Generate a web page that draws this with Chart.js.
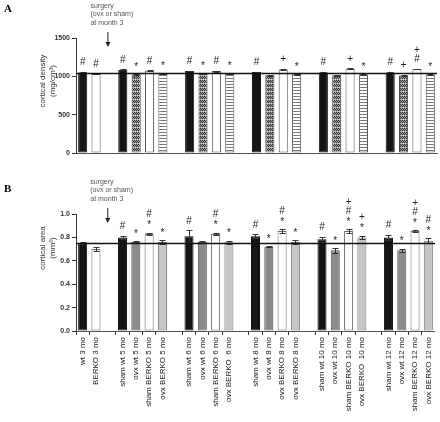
<!DOCTYPE html>
<html>
<head>
<meta charset="utf-8">
<script src="https://cdn.jsdelivr.net/npm/chart.js@4.4.1/dist/chart.umd.min.js"></script>
<style>
  html, body { margin: 0; padding: 0; background: #fff; }
  #wrap { position: relative; width: 440px; height: 422px; }
  #chartA { position: absolute; left: 0; top: 0; }
  #chartB { position: absolute; left: 0; top: 170px; }
</style>
</head>
<body>
<div id="wrap">
  <canvas id="chartA" width="440" height="170"></canvas>
  <canvas id="chartB" width="440" height="252"></canvas>
</div>
<script>
// categories (empty strings are the gaps between time points)
const labels = [
  'wt 3 mo', 'BERKO 3 mo', '',
  'sham wt 5 mo', 'ovx wt 5 mo', 'sham BERKO 5 mo', 'ovx BERKO 5 mo', '',
  'sham wt 6 mo', 'ovx wt 6 mo', 'sham BERKO 6 mo', 'ovx BERKO  6 mo', '',
  'sham wt 8 mo', 'ovx wt 8 mo', 'ovx BERKO 8 mo', 'ovx BERKO 8 mo', '',
  'sham wt 10 mo', 'ovx wt 10 mo', 'sham BERKO 10 mo', 'ovx BERKO  10 mo', '',
  'sham wt 12 mo', 'ovx wt 12 mo', 'sham BERKO 12 mo', 'ovx BERKO 12 mo'
];
const groups = [
  'wt', 'berko', null,
  'wt', 'ovxwt', 'berko', 'ovxberko', null,
  'wt', 'ovxwt', 'berko', 'ovxberko', null,
  'wt', 'ovxwt', 'berko', 'ovxberko', null,
  'wt', 'ovxwt', 'berko', 'ovxberko', null,
  'wt', 'ovxwt', 'berko', 'ovxberko'
];

// panel A: cortical density (mg/cm3)
const densityValues = [1050, 1030, null, 1087, 1025, 1073, 1030, null, 1070, 1030, 1068, 1030, null,
  1055, 1013, 1090, 1027, null, 1050, 1015, 1100, 1025, null, 1050, 1012, 1095, 1025];
const densityErrors = [5, 5, null, 5, 5, 5, 5, null, 5, 5, 5, 5, null,
  5, 5, 5, 5, null, 5, 5, 5, 5, null, 5, 5, 5, 5];
// symbols listed from bottom to top
const densityMarks = [['#'], ['#'], [], ['#'], ['*'], ['#'], ['*'], [], ['#'], ['*'], ['#'], ['*'], [],
  ['#'], [], ['+'], ['*'], [], ['#'], [], ['+'], ['*'], [], ['#'], ['+'], ['#', '+'], ['*']];
const densityRef = 1040;
const densityTicks = [0, 500, 1000, 1500];

// panel B: cortical area (mm2)
const areaValues = [0.75, 0.70, null, 0.80, 0.76, 0.83, 0.76, null, 0.81, 0.76, 0.83, 0.758, null,
  0.81, 0.72, 0.855, 0.76, null, 0.784, 0.69, 0.855, 0.80, null, 0.80, 0.69, 0.855, 0.772];
const areaErrors = [0.01, 0.02, null, 0.015, 0.01, 0.01, 0.015, null, 0.05, 0.01, 0.01, 0.015, null,
  0.015, 0.005, 0.015, 0.015, null, 0.02, 0.02, 0.015, 0.015, null, 0.02, 0.015, 0.01, 0.02];
const areaMarks = [[], [], [], ['#'], ['*'], ['*', '#'], ['*'], [], ['#'], [], ['*', '#'], ['*'], [],
  ['#'], ['*'], ['*', '#'], ['*'], [], ['#'], ['*'], ['*', '#', '+'], ['*', '+'], [],
  ['#'], ['*'], ['*', '#', '+'], ['*', '#']];
const areaRef = 0.75;
const areaTicks = [0, 0.2, 0.4, 0.6, 0.8, 1.0];

Chart.defaults.font.family = '"Liberation Sans", Arial, sans-serif';
Chart.defaults.color = '#222';

function makePattern(kind) {
  const c = document.createElement('canvas');
  const g = c.getContext('2d');
  if (kind === 'checker') {
    c.width = 4; c.height = 4;
    g.fillStyle = '#9a9a9a'; g.fillRect(0, 0, 4, 4);
    g.fillStyle = '#333';
    g.fillRect(0, 0, 1, 1); g.fillRect(2, 0, 1, 1);
    g.fillRect(1, 1, 1, 1); g.fillRect(3, 1, 1, 1);
    g.fillRect(0, 2, 1, 1); g.fillRect(2, 2, 1, 1);
    g.fillStyle = '#e0e0e0';
    g.fillRect(1, 3, 1, 1); g.fillRect(3, 3, 1, 1);
  } else {
    c.width = 3; c.height = 3;
    g.fillStyle = '#fff'; g.fillRect(0, 0, 3, 3);
    g.fillStyle = '#777'; g.fillRect(0, 0, 3, 1);
  }
  return g.createPattern(c, 'repeat');
}

const fillsA = { wt: '#151515', berko: '#ffffff', ovxwt: makePattern('checker'), ovxberko: makePattern('stripes') };
const bordersA = { wt: '#111', berko: '#555', ovxwt: '#444', ovxberko: '#555' };
const fillsB = { wt: '#151515', berko: '#ffffff', ovxwt: '#8a8a8a', ovxberko: '#c6c6c6' };
const bordersB = { wt: '#111', berko: '#6a6a6a', ovxwt: '#555', ovxberko: '#777' };

const extras = {
  id: 'extras',
  afterDatasetsDraw(chart, args, o) {
    const ctx = chart.ctx;
    const xs = chart.scales.x, ys = chart.scales.y;
    const area = chart.chartArea;
    ctx.save();
    // error bars
    ctx.strokeStyle = '#333';
    ctx.lineWidth = 1;
    o.values.forEach((v, i) => {
      if (v == null) return;
      const e = o.errors[i];
      const cx = Math.round(xs.getPixelForValue(i)) + 0.5;
      const yHi = Math.round(ys.getPixelForValue(v + e)) + 0.5;
      const yLo = Math.round(ys.getPixelForValue(v - e)) + 0.5;
      ctx.beginPath();
      ctx.moveTo(cx, yLo); ctx.lineTo(cx, yHi);
      ctx.moveTo(cx - 3, yHi); ctx.lineTo(cx + 3, yHi);
      ctx.moveTo(cx - 3, yLo); ctx.lineTo(cx + 3, yLo);
      ctx.stroke();
    });
    // reference line at the 3 month wt mean
    const ry = Math.round(ys.getPixelForValue(o.ref)) + 0.5;
    ctx.strokeStyle = '#111';
    ctx.lineWidth = 1.3;
    ctx.beginPath();
    ctx.moveTo(area.left, ry); ctx.lineTo(area.right, ry);
    ctx.stroke();
    // significance symbols
    ctx.fillStyle = '#222';
    ctx.font = '10px "Liberation Sans", Arial, sans-serif';
    ctx.textAlign = 'center';
    ctx.textBaseline = 'middle';
    o.marks.forEach((list, i) => {
      const v = o.values[i];
      if (v == null) return;
      const top = ys.getPixelForValue(v + o.errors[i]);
      const cx = xs.getPixelForValue(i);
      list.forEach((m, k) => {
        let my = top - 9.5 - k * 8.5;
        if (m === '*') my += 2.5;
        ctx.fillText(m, cx, my);
      });
    });
    // surgery note and arrow
    const ax = xs.getPixelForValue(2) - 2;
    ctx.fillStyle = '#555';
    ctx.font = '7px "Liberation Sans", Arial, sans-serif';
    ctx.textAlign = 'left';
    ['surgery', '(ovx or sham)', 'at month 3'].forEach((t, k) => {
      ctx.fillText(t, ax - 17, area.top - 32 + k * 8.5);
    });
    ctx.strokeStyle = '#222';
    ctx.fillStyle = '#222';
    ctx.lineWidth = 1;
    ctx.beginPath();
    ctx.moveTo(ax + 0.5, area.top - 6); ctx.lineTo(ax + 0.5, area.top + 5);
    ctx.stroke();
    ctx.beginPath();
    ctx.moveTo(ax - 2, area.top + 4); ctx.lineTo(ax + 3, area.top + 4); ctx.lineTo(ax + 0.5, area.top + 9);
    ctx.closePath();
    ctx.fill();
    // y axis title
    ctx.fillStyle = '#333';
    ctx.font = '8px "Liberation Sans", Arial, sans-serif';
    ctx.textAlign = 'center';
    ctx.save();
    ctx.translate(0, area.top + o.titleOffset);
    ctx.rotate(-Math.PI / 2);
    ctx.fillText(o.title[0], 0, 43);
    ctx.fillText(o.title[1], 0, 53);
    ctx.restore();
    // panel letter
    ctx.fillStyle = '#000';
    ctx.font = 'bold 11px "Liberation Serif", "DejaVu Serif", serif';
    ctx.textAlign = 'left';
    ctx.fillText(o.letter, 4, o.letterY);
    ctx.restore();
  }
};

function buildChart(id, cfg) {
  return new Chart(document.getElementById(id), {
    type: 'bar',
    data: {
      labels: labels,
      datasets: [{
        data: cfg.values,
        backgroundColor: groups.map(g => g ? cfg.fills[g] : 'transparent'),
        borderColor: groups.map(g => g ? cfg.borders[g] : 'transparent'),
        borderWidth: 1,
        borderSkipped: false,
        barPercentage: 0.68,
        categoryPercentage: 1
      }]
    },
    options: {
      responsive: false,
      animation: false,
      layout: { padding: { top: cfg.padTop, right: 3, left: 0, bottom: 0 } },
      plugins: {
        legend: { display: false },
        tooltip: { enabled: false },
        extras: {
          values: cfg.values, errors: cfg.errors, marks: cfg.marks, ref: cfg.ref,
          title: cfg.title, titleOffset: cfg.titleOffset, letter: cfg.letter, letterY: cfg.letterY
        }
      },
      scales: {
        x: {
          offset: true,
          grid: {
            display: cfg.showLabels,
            drawOnChartArea: false,
            tickLength: 4,
            tickColor: c => (labels[c.index] ? '#333' : 'rgba(0,0,0,0)')
          },
          border: { display: true, color: '#555', width: 1 },
          ticks: {
            display: cfg.showLabels,
            autoSkip: false,
            minRotation: 90,
            maxRotation: 90,
            padding: 2,
            font: { size: 8 },
            color: '#222'
          },
          afterFit: s => { s.height = cfg.xHeight; }
        },
        y: {
          min: cfg.ticks[0],
          max: cfg.ticks[cfg.ticks.length - 1],
          afterBuildTicks: s => { s.ticks = cfg.ticks.map(v => ({ value: v })); },
          grid: { drawOnChartArea: false, tickLength: 4, tickColor: '#333' },
          border: { display: true, color: '#333', width: 1 },
          ticks: {
            padding: 2,
            font: { size: 7, weight: 'bold' },
            color: '#333',
            callback: cfg.tickFormat
          },
          afterFit: s => { s.width = 76; }
        }
      }
    },
    plugins: [extras]
  });
}

buildChart('chartA', {
  values: densityValues, errors: densityErrors, marks: densityMarks, ref: densityRef,
  ticks: densityTicks, tickFormat: v => String(v),
  fills: fillsA, borders: bordersA,
  padTop: 38, xHeight: 17, showLabels: false,
  title: ['cortical density', '(mg/cm\u00b3)'], titleOffset: 43, letter: 'A', letterY: 9
});

buildChart('chartB', {
  values: areaValues, errors: areaErrors, marks: areaMarks, ref: areaRef,
  ticks: areaTicks, tickFormat: v => Number(v).toFixed(1),
  fills: fillsB, borders: bordersB,
  padTop: 44, xHeight: 91, showLabels: true,
  title: ['cortical area', '(mm\u00b2)'], titleOffset: 34, letter: 'B', letterY: 19
});
</script>
</body>
</html>
